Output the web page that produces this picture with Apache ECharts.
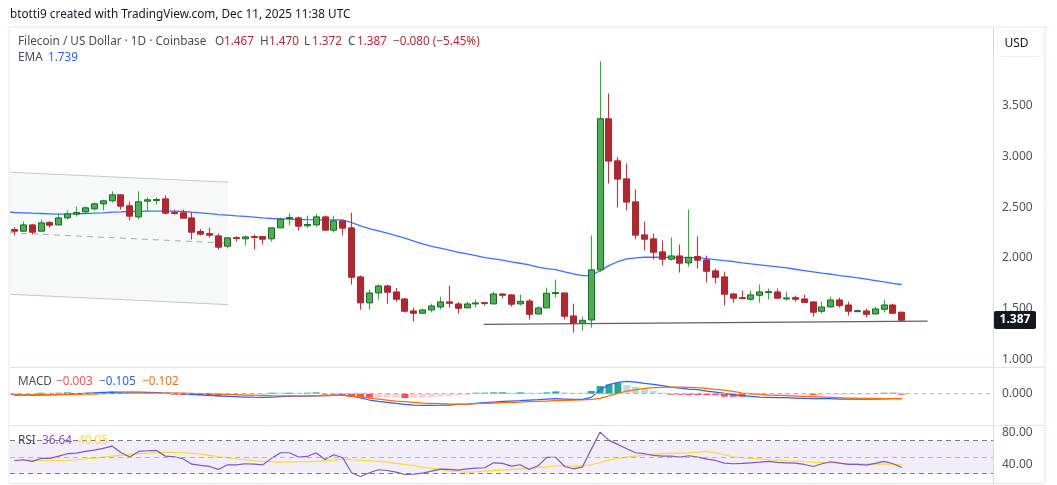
<!DOCTYPE html>
<html>
<head>
<meta charset="utf-8">
<title>Filecoin / US Dollar</title>
<script src="https://cdn.jsdelivr.net/npm/echarts@6/dist/echarts.min.js"></script>
<style>
    html, body { margin: 0; padding: 0; background: #fff; }
    #chart { width: 1057px; height: 485px; }
</style>
</head>
<body>
<div id="chart"></div>
<script>
// daily candles, ten per row
const opens = [
    2.280,2.263,2.325,2.263,2.349,2.325,2.394,2.431,2.453,2.483,
    2.532,2.562,2.621,2.513,2.404,2.558,2.568,2.581,2.447,2.444,
    2.394,2.260,2.240,2.217,2.116,2.201,2.188,2.211,2.211,2.188,
    2.296,2.391,2.394,2.316,2.325,2.404,2.273,2.365,2.296,1.814,
    1.558,1.656,1.725,1.666,1.597,1.479,1.456,1.489,1.518,1.568,
    1.548,1.509,1.548,1.561,1.548,1.646,1.637,1.548,1.577,1.449,
    1.509,1.653,1.656,1.430,1.358,1.390,1.883,3.369,2.955,2.778,
    2.552,2.227,2.188,2.060,1.988,2.020,1.951,2.014,1.981,1.873,
    1.814,1.646,1.610,1.594,1.633,1.663,1.666,1.600,1.610,1.597,
    1.568,1.476,1.518,1.587,1.538,1.476,1.479,1.449,1.495,1.538,1.467
];
const highs = [
    2.303,2.358,2.335,2.378,2.362,2.434,2.467,2.506,2.506,2.545,
    2.572,2.654,2.621,2.555,2.654,2.595,2.595,2.614,2.476,2.476,
    2.450,2.286,2.299,2.240,2.198,2.214,2.221,2.230,2.211,2.296,
    2.398,2.437,2.408,2.417,2.434,2.417,2.417,2.365,2.444,1.827,
    1.689,1.738,1.738,1.705,1.607,1.512,1.502,1.551,1.620,1.728,
    1.568,1.568,1.591,1.568,1.669,1.650,1.646,1.640,1.597,1.522,
    1.709,1.787,1.656,1.551,1.423,2.221,3.933,3.618,2.995,2.929,
    2.673,2.358,2.240,2.171,2.201,2.132,2.476,2.211,2.024,1.896,
    1.866,1.656,1.679,1.679,1.738,1.699,1.699,1.669,1.630,1.640,
    1.568,1.571,1.620,1.610,1.571,1.492,1.502,1.522,1.591,1.551,1.470
];
const lows = [
    2.221,2.263,2.234,2.263,2.299,2.325,2.378,2.408,2.434,2.467,
    2.467,2.545,2.476,2.368,2.378,2.457,2.526,2.427,2.427,2.391,
    2.181,2.221,2.201,2.083,2.093,2.161,2.122,2.083,2.132,2.161,
    2.296,2.319,2.270,2.296,2.309,2.273,2.250,2.221,1.738,1.492,
    1.492,1.591,1.551,1.571,1.463,1.374,1.456,1.466,1.492,1.512,
    1.453,1.509,1.515,1.532,1.548,1.600,1.522,1.532,1.394,1.449,
    1.509,1.610,1.394,1.266,1.285,1.315,1.860,2.732,2.496,2.467,
    2.184,2.073,1.984,1.925,1.974,1.856,1.915,1.896,1.758,1.748,
    1.532,1.561,1.604,1.581,1.561,1.591,1.604,1.581,1.571,1.561,
    1.423,1.456,1.518,1.512,1.433,1.466,1.413,1.449,1.463,1.456,1.372
];
const closes = [
    2.263,2.325,2.253,2.345,2.322,2.394,2.434,2.447,2.493,2.532,
    2.562,2.621,2.509,2.411,2.552,2.572,2.575,2.440,2.437,2.391,
    2.253,2.234,2.224,2.106,2.198,2.194,2.207,2.204,2.184,2.296,
    2.381,2.398,2.312,2.329,2.404,2.273,2.365,2.293,1.810,1.558,
    1.656,1.725,1.663,1.594,1.476,1.456,1.489,1.528,1.568,1.554,
    1.505,1.548,1.558,1.554,1.646,1.633,1.545,1.574,1.446,1.509,
    1.653,1.659,1.427,1.354,1.387,1.883,3.369,2.952,2.775,2.549,
    2.224,2.184,2.056,1.988,2.020,1.948,2.007,1.978,1.869,1.810,
    1.643,1.604,1.604,1.637,1.666,1.669,1.604,1.607,1.594,1.561,
    1.466,1.518,1.587,1.532,1.476,1.482,1.446,1.499,1.538,1.456,1.387
];
const ema = [
    2.447,2.444,2.440,2.437,2.434,2.431,2.431,2.434,2.437,2.440,
    2.444,2.450,2.453,2.457,2.458,2.460,2.460,2.460,2.460,2.457,
    2.450,2.444,2.435,2.427,2.421,2.414,2.408,2.401,2.394,2.388,
    2.385,2.381,2.378,2.376,2.375,2.375,2.375,2.375,2.348,2.316,
    2.289,2.266,2.243,2.220,2.194,2.165,2.138,2.115,2.096,2.076,
    2.056,2.040,2.024,2.004,1.991,1.978,1.961,1.948,1.932,1.909,
    1.896,1.886,1.863,1.843,1.827,1.827,1.876,1.925,1.965,1.991,
    2.001,2.007,2.007,2.007,2.006,2.004,2.004,2.004,1.994,1.984,
    1.974,1.965,1.951,1.942,1.932,1.922,1.912,1.902,1.889,1.876,
    1.863,1.850,1.840,1.827,1.817,1.804,1.791,1.778,1.764,1.751,1.739
];
const macdLine = [
    -.028,-.028,-.028,-.028,-.025,-.021,-.011,0,.007,.018,
    .028,.035,.035,.035,.032,.028,.021,.014,.007,0,
    -.014,-.025,-.035,-.046,-.056,-.063,-.07,-.074,-.077,-.07,
    -.063,-.056,-.053,-.049,-.046,-.042,-.035,-.032,-.049,-.091,
    -.133,-.161,-.182,-.203,-.224,-.238,-.245,-.245,-.242,-.238,
    -.224,-.217,-.203,-.189,-.175,-.161,-.154,-.147,-.133,-.126,
    -.112,-.105,-.112,-.119,-.119,-.077,.077,.189,.238,.259,
    .245,.217,.196,.168,.14,.119,.098,.084,.056,.035,
    .007,-.021,-.042,-.056,-.07,-.077,-.084,-.084,-.091,-.098,
    -.105,-.105,-.105,-.112,-.112,-.112,-.112,-.112,-.109,-.105,-.105
];
const macdSignal = [
    -.028,-.025,-.025,-.021,-.021,-.021,-.018,-.014,-.011,-.007,
    0,.004,.007,.011,.014,.014,.014,.014,.014,.011,
    .007,.004,0,-.007,-.014,-.021,-.028,-.032,-.035,-.042,
    -.046,-.046,-.046,-.046,-.042,-.042,-.035,-.038,-.049,-.07,
    -.091,-.112,-.133,-.154,-.168,-.182,-.196,-.203,-.21,-.217,
    -.217,-.217,-.21,-.203,-.196,-.189,-.182,-.175,-.168,-.161,
    -.154,-.147,-.14,-.133,-.13,-.119,-.098,-.042,.007,.056,
    .084,.112,.126,.133,.14,.137,.133,.126,.112,.091,
    .077,.049,.014,0,-.014,-.028,-.035,-.042,-.049,-.056,
    -.063,-.07,-.077,-.084,-.091,-.095,-.098,-.098,-.102,-.102,-.102
];
const macdHist = [
    -.028,-.021,-.014,.007,.007,.014,.028,.014,.021,.021,
    .028,.042,.028,.014,.014,.007,.007,.007,-.007,-.028,
    -.029,-.035,-.049,-.056,-.049,-.035,-.021,-.014,-.014,.014,
    .014,.015,.014,.021,.028,-.014,-.021,-.028,-.07,-.071,
    -.084,-.083,-.082,-.081,-.091,-.084,-.083,-.07,-.056,-.049,
    -.035,-.028,.014,.015,.028,.029,.021,.028,.022,.021,
    .028,.049,.028,.011,.007,.056,.161,.196,.224,.182,
    .147,.112,.056,.007,-.021,-.022,-.03,-.031,-.032,-.033,
    -.063,-.064,-.065,-.028,-.027,-.026,-.025,-.024,-.023,-.022,
    -.028,-.021,-.02,-.018,-.017,-.016,-.015,-.007,.007,.008,-.003
];
const rsi = [
    45,46.3,44.2,47.9,47.9,50.8,53.8,54.6,56.7,58.3,
    60.4,63.3,55.4,49.6,56.7,57.5,57.9,50.8,50,47.5,
    40.8,39.2,37.9,34.2,40,40,41.3,40.8,40,48.3,
    55,55,49.6,50.4,55,46.7,52.5,48.8,30,25.4,
    30,33.8,32.9,30.8,27.9,28.3,29.6,32.1,34.6,34.2,
    33.3,35,35.8,36.3,42.5,41.7,38.3,40,34.2,38.8,
    49.2,49.2,37.9,35,37.1,59.2,80.8,70.4,65.4,60,
    55,53.8,51.7,50.8,50.8,49.6,51.3,49.6,47.1,45.4,
    42.1,41.3,41.7,42.5,43.3,44.2,42.9,42.5,42.1,40.4,
    37.9,41.3,43.8,42.1,40.4,40.4,39.6,41.7,44.2,41.3,36.64
];
const rsiSma = [
    45.4,46.3,45.8,45.4,45,45.2,45.4,46.3,47.5,48.3,
    49.6,50.8,51.7,52.9,53.8,54.6,55,55.4,55.4,55,
    54.2,53.3,51.7,50,48.8,47.5,46.3,45,44.2,43.8,
    43.3,43.3,43.8,44,44.2,45,45.8,47.1,46.3,45.8,
    45,44.2,43.3,41.7,40.4,38.8,37.1,35.4,34.2,32.5,
    31.3,30.8,31.3,32.1,32.9,33.3,34.2,35,35.8,36.7,
    37.5,38.8,38.8,38.3,38.3,40,42.9,45.8,47.9,49.6,
    50.8,52.1,53.3,53.8,54.2,54.6,55,55.8,56.7,55,
    52.5,50,48.8,47.9,47.1,46.3,45.8,45,44.6,43.8,
    43.3,42.9,42.5,41.7,41.3,41.3,40.8,40.8,40.8,40.5,40.05
];

// drawn objects: parallel channel and the support line
const channelX = [-0.496, 24.07];
const channelTop = [2.843, 2.745];
const channelMid = [2.247, 2.145];
const channelBottom = [1.643, 1.541];
const supportX = [52.9, 102.9];
const supportY = [1.347, 1.378];
const emaStart = [-0.496, 2.450];

const priceTicks = [1, 1.5, 2, 2.5, 3, 3.5];
const macdTicks = [0];
const rsiTicks = [40, 80];

const AXIS_FONT = 'Noto Sans';
const xRange = { min: -0.496, max: 110.27 };

function withIndex(values) {
    return values.map(function (v, i) { return [i, v]; });
}

function renderCandle(params, api) {
    const i = api.value(0), o = api.value(1), h = api.value(2), l = api.value(3), c = api.value(4);
    const up = c >= o;
    const cx = Math.floor(api.coord([i, o])[0]) + 0.5;
    const yTop = api.coord([i, Math.max(o, c)])[1];
    const yBot = api.coord([i, Math.min(o, c)])[1];
    return {
        type: 'group',
        children: [
            {
                type: 'line',
                shape: { x1: cx, y1: api.coord([i, h])[1], x2: cx, y2: api.coord([i, l])[1] },
                style: { stroke: up ? '#0ec51f' : '#f0232c', lineWidth: 1 }
            },
            {
                type: 'rect',
                shape: { x: cx - 3, y: yTop, width: 6, height: Math.max(yBot - yTop, 1) },
                style: { fill: up ? '#4caf50' : '#b2272f', stroke: up ? '#176a2a' : '#b2272f', lineWidth: 1 }
            }
        ]
    };
}

function renderChannel(params, api) {
    const pt = function (k, arr) { return api.coord([channelX[k], arr[k]]); };
    return {
        type: 'group',
        children: [
            {
                type: 'polygon',
                shape: { points: [pt(0, channelTop), pt(1, channelTop), pt(1, channelBottom), pt(0, channelBottom)] },
                style: { fill: '#f7f9f9', stroke: null }
            },
            { type: 'polyline', shape: { points: [pt(0, channelTop), pt(1, channelTop)] }, style: { stroke: '#c6c8cf', lineWidth: 1, fill: null } },
            { type: 'polyline', shape: { points: [pt(0, channelBottom), pt(1, channelBottom)] }, style: { stroke: '#c6c8cf', lineWidth: 1, fill: null } },
            { type: 'polyline', shape: { points: [pt(0, channelMid), pt(1, channelMid)] }, style: { stroke: '#a8aab2', lineWidth: 1, lineDash: [6, 5], fill: null } }
        ]
    };
}

function histColor(params) {
    const i = params.dataIndex;
    const v = macdHist[i], prev = i > 0 ? macdHist[i - 1] : 0;
    if (v >= 0) return v > prev ? '#26a69a' : '#b2dfdb';
    return v < prev ? '#ff5252' : '#ffcdd2';
}

function yAxisFor(gridIndex, min, max, ticks, digits) {
    return {
        gridIndex: gridIndex,
        type: 'value',
        position: 'right',
        min: min,
        max: max,
        axisLine: { show: false },
        axisTick: { show: false },
        splitLine: { show: false },
        axisLabel: {
            customValues: ticks,
            margin: 9,
            color: '#50535e',
            fontFamily: AXIS_FONT,
            fontSize: 12,
            formatter: function (v) { return v.toFixed(digits); }
        }
    };
}

function label(x, y, text, color) {
    return {
        type: 'text', x: x, y: y, z: 20,
        style: { text: text, fill: color, font: '11.75px "' + AXIS_FONT + '"', textVerticalAlign: 'middle' }
    };
}

function hLine(x1, x2, y, color) {
    return { type: 'line', z: 15, shape: { x1: x1, y1: y, x2: x2, y2: y }, style: { stroke: color, lineWidth: 1 } };
}

function vLine(x, y1, y2, color, w) {
    return { type: 'line', z: 15, shape: { x1: x, y1: y1, x2: x, y2: y2 }, style: { stroke: color, lineWidth: w } };
}

const myChart = echarts.init(document.getElementById('chart'), null, { renderer: 'canvas' });

const graphics = [
    // frame and pane separators
    { type: 'rect', z: 14, shape: { x: 8, y: 26, width: 1039, height: 2 }, style: { fill: '#f0f3fa' } },
    vLine(9, 26, 483, '#f0f3fa', 2),
    vLine(1045, 26, 483, '#f0f3fa', 3),
    vLine(993.5, 28, 483, '#d6d9e2', 1),
    hLine(10, 1044, 367.5, '#e0e3eb'),
    hLine(10, 1044, 425.5, '#e0e3eb'),
    hLine(10, 1044, 483.5, '#e0e3eb'),
    // USD button
    {
        type: 'rect', z: 15,
        shape: { x: 997.5, y: 31.5, width: 45, height: 25, r: 4 },
        style: { fill: '#fff', stroke: '#f0f3fa', lineWidth: 1 }
    },
    { type: 'text', x: 1016.5, y: 44, z: 20, style: { text: 'USD', fill: '#131722', font: '12px "' + AXIS_FONT + '"', textAlign: 'center', textVerticalAlign: 'middle' } },
    // header and legends
    label(10, 15, 'btotti9 created with TradingView.com, Dec 11, 2025 11:38 UTC', '#131722'),
    label(18, 42, 'Filecoin / US Dollar · 1D · Coinbase', '#4a4d57'),
    label(215, 42, 'O', '#4a4d57'), label(224, 42, '1.467', '#c1272f'),
    label(260, 42, 'H', '#4a4d57'), label(269, 42, '1.470', '#c1272f'),
    label(304, 42, 'L', '#4a4d57'), label(312, 42, '1.372', '#c1272f'),
    label(348, 42, 'C', '#4a4d57'), label(357, 42, '1.387', '#c1272f'),
    label(393, 42, '−0.080 (−5.45%)', '#c1272f'),
    label(18, 58, 'EMA', '#4a4d57'), label(48, 58, '1.739', '#2962ff'),
    label(18, 382, 'MACD', '#4a4d57'), label(56, 382, '−0.003', '#ff5252'),
    label(99, 382, '−0.105', '#2962ff'), label(142, 382, '−0.102', '#ff6d00'),
    label(18, 441, 'RSI', '#4a4d57'), label(42, 441, '36.64', '#7e57c2'), label(78, 441, '40.05', '#fdd835')
];

const option = {
    animation: false,
    backgroundColor: '#ffffff',
    grid: [
        { left: 10, top: 28, width: 983, height: 339.7 },
        { left: 10, top: 367.7, width: 983, height: 58 },
        { left: 10, top: 425.7, width: 983, height: 57.6 }
    ],
    xAxis: [0, 1, 2].map(function (g) {
        return { gridIndex: g, type: 'value', min: xRange.min, max: xRange.max, show: false };
    }),
    yAxis: [
        yAxisFor(0, 0.921, 4.261, priceTicks, 3),
        yAxisFor(1, -0.672, 0.546, macdTicks, 3),
        yAxisFor(2, 16.9, 88.75, rsiTicks, 2)
    ],
    graphic: graphics,
    series: [
        {
            name: 'Channel', type: 'custom', z: 1, silent: true,
            xAxisIndex: 0, yAxisIndex: 0,
            data: [[channelX[0], channelMid[0]]],
            renderItem: renderChannel
        },
        {
            name: 'EMA', type: 'line', z: 2, silent: true, showSymbol: false,
            xAxisIndex: 0, yAxisIndex: 0,
            data: [emaStart].concat(withIndex(ema)),
            lineStyle: { color: '#2962ff', width: 1.3, opacity: 0.9 }
        },
        {
            name: 'Price', type: 'custom', z: 3, silent: true,
            xAxisIndex: 0, yAxisIndex: 0,
            encode: { x: 0, y: [1, 2, 3, 4] },
            data: opens.map(function (o, i) { return [i, o, highs[i], lows[i], closes[i]]; }),
            renderItem: renderCandle
        },
        {
            name: 'Support', type: 'line', z: 4, silent: true, showSymbol: false,
            xAxisIndex: 0, yAxisIndex: 0,
            data: [[supportX[0], supportY[0]], [supportX[1], supportY[1]]],
            lineStyle: { color: '#5f6169', width: 1.3 }
        },
        {
            name: 'Histogram', type: 'bar', z: 2, silent: true,
            xAxisIndex: 1, yAxisIndex: 1,
            barWidth: 7,
            barMinHeight: 1,
            data: withIndex(macdHist),
            itemStyle: { color: histColor },
            markLine: {
                silent: true, symbol: 'none', label: { show: false },
                lineStyle: { color: '#b2b5be', type: [4, 4], width: 1 },
                data: [{ yAxis: 0 }]
            }
        },
        {
            name: 'MACD', type: 'line', z: 3, silent: true, showSymbol: false,
            xAxisIndex: 1, yAxisIndex: 1,
            data: withIndex(macdLine),
            lineStyle: { color: '#2962ff', width: 1.2 }
        },
        {
            name: 'Signal', type: 'line', z: 4, silent: true, showSymbol: false,
            xAxisIndex: 1, yAxisIndex: 1,
            data: withIndex(macdSignal),
            lineStyle: { color: '#ff6d00', width: 1.2 }
        },
        {
            name: 'RSI', type: 'line', z: 4, silent: true, showSymbol: false,
            xAxisIndex: 2, yAxisIndex: 2,
            data: withIndex(rsi),
            lineStyle: { color: '#7e57c2', width: 1.2 },
            markArea: {
                silent: true,
                itemStyle: { color: 'rgba(126,87,194,0.1)' },
                data: [[{ yAxis: 30 }, { yAxis: 70 }]]
            },
            markLine: {
                silent: true, symbol: 'none', label: { show: false },
                lineStyle: { color: '#787b86', type: [5, 4], width: 1 },
                data: [
                    { yAxis: 70 },
                    { yAxis: 50, lineStyle: { color: '#b2b5be', type: [5, 4], width: 1 } },
                    { yAxis: 30 }
                ]
            }
        },
        {
            name: 'RSI SMA', type: 'line', z: 3, silent: true, showSymbol: false,
            xAxisIndex: 2, yAxisIndex: 2,
            data: withIndex(rsiSma),
            lineStyle: { color: '#fdd835', width: 1.2 }
        }
    ]
};

myChart.setOption(option);

// last price tag sits on the price scale at the last close
const lastClose = closes[closes.length - 1];
const tagY = Math.round(myChart.convertToPixel({ yAxisIndex: 0 }, lastClose));
myChart.setOption({
    graphic: graphics.concat([
        {
            type: 'rect', z: 18,
            shape: { x: 994, y: tagY - 9, width: 42, height: 18, r: 2 },
            style: { fill: '#131722' }
        },
        {
            type: 'text', x: 1015, y: tagY, z: 20,
            style: { text: lastClose.toFixed(3), fill: '#ffffff', font: 'bold 12px "' + AXIS_FONT + '"', textAlign: 'center', textVerticalAlign: 'middle' }
        }
    ])
});
</script>
</body>
</html>
